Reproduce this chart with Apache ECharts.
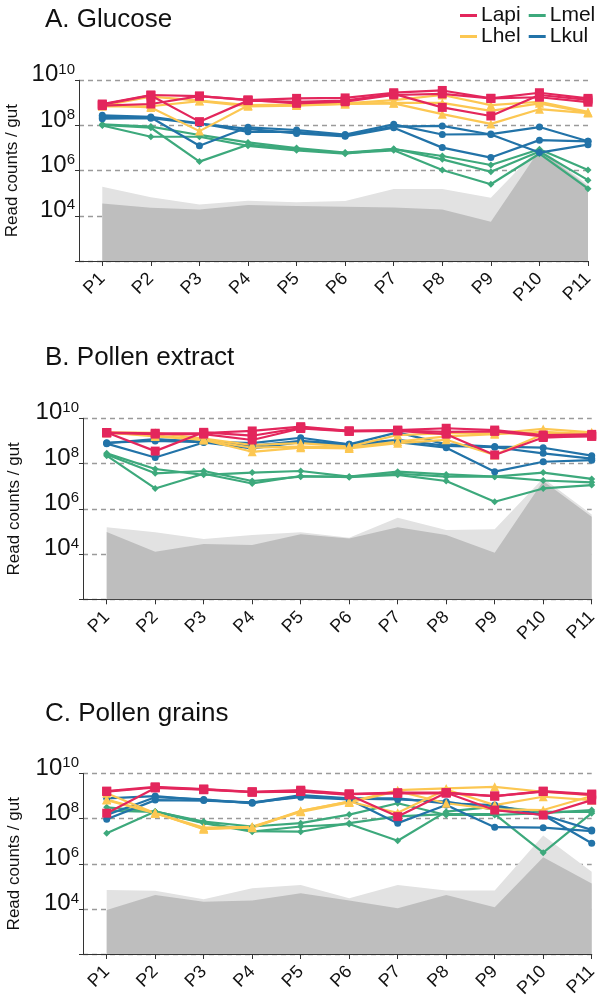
<!DOCTYPE html>
<html><head><meta charset="utf-8">
<script src="https://cdn.jsdelivr.net/npm/echarts@6/dist/echarts.min.js"></script>
<style>html,body{margin:0;padding:0;background:#fff}#c{width:601px;height:1004px}</style>
</head><body><div id="c"></div><script>
// ---- DATA (values are log10 of read counts per gut) ----
const categories = ['P1','P2','P3','P4','P5','P6','P7','P8','P9','P10','P11'];
const yTickValues = [4, 6, 8, 10];
const species = ['Lapi','Lhel','Lmel','Lkul'];

// Panel A: Glucose
const A_Lapi = [
  [8.95, 9.35, 9.30, 9.12, 9.20, 9.22, 9.45, 9.55, 9.20, 9.45, 9.20],
  [8.92, 9.33, 8.17, 9.10, 9.05, 9.10, 9.40, 8.80, 8.42, 9.35, 9.13],
  [8.88, 8.95, 9.30, 9.13, 8.98, 9.05, 9.35, 9.40, 9.20, 9.25, 9.03]];
const A_Lhel = [
  [8.88, 9.28, 9.10, 8.90, 8.92, 8.98, 9.12, 9.35, 8.90, 9.05, 8.60],
  [8.85, 8.85, 9.08, 8.85, 8.88, 8.95, 9.00, 9.00, 8.65, 8.98, 8.57],
  [8.90, 8.80, 7.75, 8.88, 8.90, 8.95, 8.98, 8.50, 8.07, 8.72, 8.55]];
const A_Lmel = [
  [8.05, 7.95, 7.58, 7.25, 7.00, 6.80, 6.95, 6.65, 6.25, 6.95, 6.03],
  [8.00, 7.50, 7.50, 7.10, 6.90, 6.75, 6.97, 6.50, 5.95, 6.85, 5.58],
  [8.02, 7.90, 6.40, 7.15, 6.95, 6.78, 6.90, 6.03, 5.40, 6.75, 5.20]];
const A_Lkul = [
  [8.45, 8.38, 8.10, 7.72, 7.72, 7.55, 7.95, 7.98, 7.60, 6.80, 7.15],
  [8.38, 8.35, 7.10, 7.92, 7.80, 7.60, 8.05, 7.60, 7.62, 7.93, 7.30],
  [8.30, 8.32, 8.08, 7.85, 7.65, 7.52, 7.90, 7.02, 6.58, 7.35, 7.30]];
const A_ctrlHigh = [5.29, 4.82, 4.50, 4.67, 4.60, 4.66, 5.19, 5.19, 4.80, 7.03, 5.36];
const A_ctrlLow  = [4.55, 4.36, 4.28, 4.48, 4.43, 4.40, 4.37, 4.28, 3.74, 6.91, 5.29];

// Panel B: Pollen extract
const B_Lapi = [
  [9.37, 9.34, 9.35, 9.44, 9.63, 9.44, 9.48, 9.56, 9.48, 9.26, 9.29],
  [9.37, 8.55, 9.38, 9.23, 9.58, 9.44, 9.46, 9.40, 9.42, 9.20, 9.20],
  [9.35, 9.30, 9.30, 9.04, 9.55, 9.42, 9.44, 9.30, 8.38, 9.15, 9.22]];
const B_Lhel = [
  [9.38, 9.36, 9.10, 8.82, 8.90, 8.75, 9.26, 9.34, 9.34, 9.53, 9.38],
  [9.38, 9.20, 9.05, 8.70, 8.75, 8.70, 8.97, 9.20, 9.30, 9.40, 9.30],
  [9.36, 9.25, 9.04, 8.52, 8.70, 8.67, 8.90, 9.05, 8.38, 9.30, 9.33]];
const B_Lmel = [
  [8.45, 7.76, 7.50, 7.60, 7.67, 7.42, 7.64, 7.52, 7.42, 7.60, 7.32],
  [8.40, 7.57, 7.67, 7.23, 7.42, 7.42, 7.55, 7.42, 7.42, 7.25, 7.17],
  [8.35, 6.90, 7.55, 7.12, 7.45, 7.40, 7.50, 7.23, 6.31, 6.90, 7.05]];
const B_Lkul = [
  [8.90, 9.08, 8.97, 8.90, 9.14, 8.85, 9.38, 8.85, 8.75, 8.70, 8.35],
  [8.92, 9.00, 8.95, 8.78, 9.00, 8.85, 9.05, 8.78, 8.72, 8.45, 8.22],
  [8.88, 8.27, 8.93, 8.67, 8.95, 8.82, 8.95, 8.70, 7.64, 8.08, 8.15]];
const B_ctrlHigh = [5.18, 4.96, 4.66, 4.84, 4.96, 4.72, 5.60, 5.06, 5.10, 7.35, 5.75];
const B_ctrlLow  = [4.98, 4.10, 4.44, 4.40, 4.87, 4.69, 5.18, 4.84, 4.06, 7.23, 5.65];

// Panel C: Pollen grains
const C_Lapi = [
  [9.22, 9.41, 9.31, 9.19, 9.26, 9.10, 9.15, 9.15, 9.00, 9.22, 9.09],
  [9.20, 9.38, 9.30, 9.18, 9.22, 9.05, 8.09, 9.15, 8.38, 8.16, 8.82],
  [8.24, 9.36, 9.28, 9.17, 9.20, 9.08, 9.12, 9.13, 9.00, 9.20, 9.05]];
const C_Lhel = [
  [9.12, 8.24, 7.60, 7.62, 8.35, 8.75, 9.26, 9.34, 9.41, 9.19, 9.04],
  [8.82, 8.24, 7.55, 7.60, 8.33, 8.75, 8.26, 9.29, 8.60, 8.97, 8.82],
  [8.85, 8.26, 7.53, 7.65, 8.30, 8.72, 9.22, 8.68, 8.41, 8.38, 9.00]];
const C_Lmel = [
  [8.50, 8.31, 7.87, 7.65, 7.80, 8.18, 8.68, 8.16, 8.16, 8.24, 8.38],
  [8.35, 8.30, 7.80, 7.42, 7.65, 7.76, 7.02, 8.31, 8.53, 8.30, 8.30],
  [7.35, 8.32, 7.82, 7.45, 7.42, 7.80, 8.10, 8.20, 8.20, 6.49, 8.24]];
const C_Lkul = [
  [8.90, 9.00, 8.82, 8.70, 9.04, 8.90, 8.90, 8.68, 8.60, 8.16, 7.50],
  [7.97, 8.82, 8.80, 8.72, 8.95, 8.85, 7.80, 8.60, 7.62, 7.60, 7.45],
  [8.16, 8.95, 8.85, 8.68, 9.00, 8.88, 8.85, 8.75, 8.40, 8.16, 6.91]];
const C_ctrlHigh = [4.84, 4.80, 4.43, 4.91, 5.06, 4.47, 5.06, 4.81, 4.81, 7.25, 5.65];
const C_ctrlLow  = [3.95, 4.62, 4.32, 4.37, 4.69, 4.37, 4.03, 4.62, 4.07, 6.29, 5.13];

// ---- STYLE / LAYOUT ----
const colors = {Lapi:'#E3265C', Lhel:'#FCC752', Lmel:'#3DA97C', Lkul:'#2273A8'};
const symbols = {Lapi:['rect',9], Lhel:['triangle',9], Lmel:['diamond',7], Lkul:['circle',7]};
const drawOrder = ['Lmel','Lkul','Lhel','Lapi'];
const FONT = '"Liberation Sans", Arial, sans-serif';

const panels = [
  {title:'A. Glucose', titleTop:2, top:80.3, bottom:261, left:102.3, right:588, axisX:79, nameGap:58,
   data:{Lapi:A_Lapi, Lhel:A_Lhel, Lmel:A_Lmel, Lkul:A_Lkul}, hi:A_ctrlHigh, lo:A_ctrlLow},
  {title:'B. Pollen extract', titleTop:340, top:418.3, bottom:599.3, left:106.7, right:591.7, axisX:83, nameGap:60,
   data:{Lapi:B_Lapi, Lhel:B_Lhel, Lmel:B_Lmel, Lkul:B_Lkul}, hi:B_ctrlHigh, lo:B_ctrlLow},
  {title:'C. Pollen grains', titleTop:696, top:773.5, bottom:954, left:106.7, right:591.7, axisX:83, nameGap:60,
   data:{Lapi:C_Lapi, Lhel:C_Lhel, Lmel:C_Lmel, Lkul:C_Lkul}, hi:C_ctrlHigh, lo:C_ctrlLow}
];

const grid = [], xAxis = [], yAxis = [], series = [], title = [];
panels.forEach((p, i) => {
  const gData = i * 2, gAxis = i * 2 + 1;
  title.push({text:p.title, left:40, top:p.titleTop,
    textStyle:{fontFamily:FONT, fontSize:26, fontWeight:'normal', color:'#111'}});
  grid.push({left:p.left, top:p.top, width:p.right - p.left, height:p.bottom - p.top,
    containLabel:false, outerBoundsMode:'none'});
  grid.push({left:p.axisX, top:p.top, width:p.right - p.axisX, height:p.bottom - p.top,
    containLabel:false, outerBoundsMode:'none'});
  xAxis.push({gridIndex:gData, type:'category', data:categories, boundaryGap:false,
    axisLine:{show:true, lineStyle:{color:'#333', width:1}},
    axisTick:{show:true, length:5, lineStyle:{color:'#333'}},
    axisLabel:{rotate:45, fontSize:18, color:'#111', fontFamily:FONT, margin:15},
    splitLine:{show:false}});
  xAxis.push({gridIndex:gAxis, type:'value', min:0, max:1,
    axisLine:{show:true, lineStyle:{color:'#333', width:1}},
    axisTick:{show:false}, axisLabel:{show:false}, splitLine:{show:false}});
  yAxis.push({gridIndex:gData, type:'value', min:2, max:10, interval:2, show:false});
  yAxis.push({gridIndex:gAxis, type:'value', min:2, max:10, interval:2,
    axisLine:{show:true, lineStyle:{color:'#333', width:1}},
    axisTick:{show:true, length:4, lineStyle:{color:'#333'}},
    splitLine:{show:true, lineStyle:{type:[5,4], color:'#9a9a9a', width:1.3}},
    name:'Read counts / gut', nameLocation:'middle', nameGap:p.nameGap,
    nameTextStyle:{fontFamily:FONT, fontSize:17, color:'#111'},
    axisLabel:{margin:4, verticalAlign:'bottom', padding:[0,0,-7,0],
      formatter: v => yTickValues.indexOf(v) >= 0 ? '{b|10}{s|' + v + '}' : '',
      rich:{b:{fontFamily:FONT, fontSize:24, color:'#111', lineHeight:25},
            s:{fontFamily:FONT, fontSize:15, color:'#111', lineHeight:15, verticalAlign:'top'}}}});
  series.push({type:'line', xAxisIndex:gData, yAxisIndex:gData, data:p.hi, showSymbol:false,
    lineStyle:{width:0}, areaStyle:{color:'#e2e2e2', opacity:1, origin:'start'}, silent:true, z:1});
  series.push({type:'line', xAxisIndex:gData, yAxisIndex:gData, data:p.lo, showSymbol:false,
    lineStyle:{width:0}, areaStyle:{color:'#bebebe', opacity:1, origin:'start'}, silent:true, z:1});
  drawOrder.forEach(sp => {
    p.data[sp].forEach(rep => {
      series.push({type:'line', name:sp, xAxisIndex:gData, yAxisIndex:gData, data:rep,
        color:colors[sp], symbol:symbols[sp][0], symbolSize:symbols[sp][1], showSymbol:true,
        lineStyle:{width:2.2, color:colors[sp]}, itemStyle:{color:colors[sp]}, z:3});
    });
  });
});

const legendCommon = {orient:'horizontal', icon:'rect', itemWidth:17, itemHeight:3, itemGap:8,
  textStyle:{fontFamily:FONT, fontSize:21, color:'#111', padding:[0,0,0,-1]}};
const chart = echarts.init(document.getElementById('c'), null, {renderer:'canvas'});
chart.setOption({
  animation:false,
  backgroundColor:'#fff',
  title: title,
  legend:[
    Object.assign({data:['Lapi','Lmel'], left:455, top:0}, legendCommon),
    Object.assign({data:['Lhel','Lkul'], left:455, top:21}, legendCommon)
  ],
  grid: grid, xAxis: xAxis, yAxis: yAxis, series: series
});
</script></body></html>
